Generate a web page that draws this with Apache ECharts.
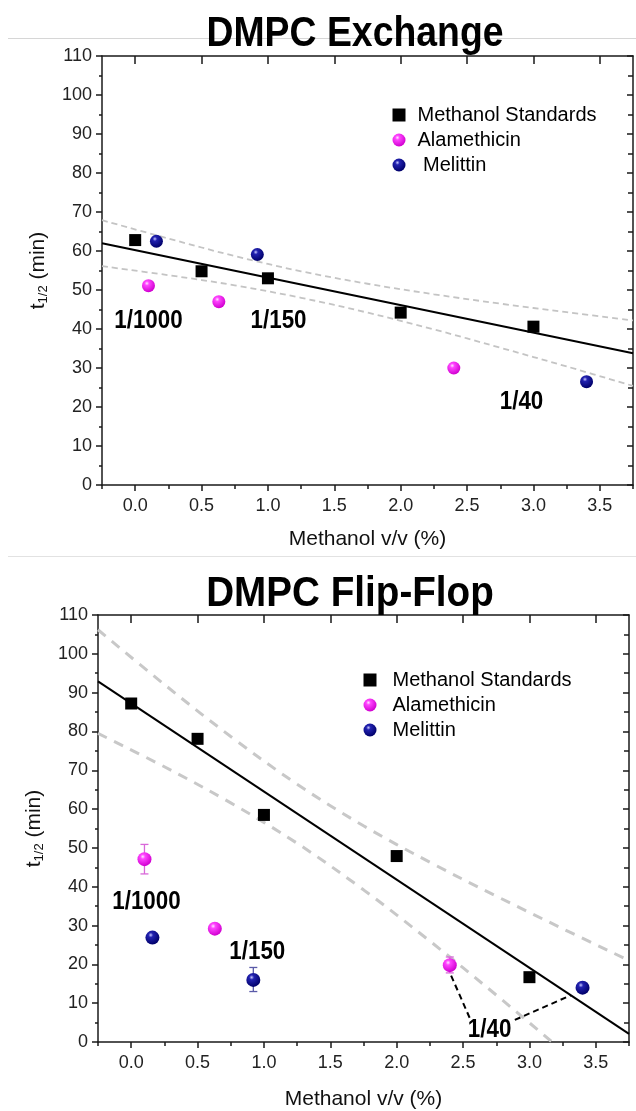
<!DOCTYPE html>
<html><head><meta charset="utf-8">
<script src="https://cdn.jsdelivr.net/npm/echarts@6/dist/echarts.min.js"></script>
<style>html,body{margin:0;padding:0;background:#fff}#c{width:636px;height:1111px}</style>
</head><body><div id="c"></div>
<script>
// ---------- DATA ----------
const xTickValues = [0, 0.5, 1.0, 1.5, 2.0, 2.5, 3.0, 3.5];
const bandX = [-0.25, 0.25, 0.75, 1.25, 1.75, 2.25, 2.75, 3.25, 3.75];

// DMPC Exchange
const exStdX = [0, 0.5, 1.0, 2.0, 3.0];
const exStdY = [62.8, 54.8, 53.0, 44.2, 40.6];
const exAlaX = [0.10, 0.63, 2.40];
const exAlaY = [51.1, 47.0, 30.0];
const exMelX = [0.16, 0.92, 3.40];
const exMelY = [62.5, 59.1, 26.5];
const exFitX = [-0.25, 3.75];
const exFitY = [62.0, 33.8];
const exUpperY = [67.9, 63.2, 58.7, 54.8, 51.6, 48.9, 46.5, 44.3, 42.2];
const exLowerY = [56.1, 53.8, 51.2, 48.0, 44.2, 39.9, 35.2, 30.4, 25.4];
const exAnnText = ['1/1000', '1/150', '1/40'];
const exAnnX = [0.10, 1.08, 2.91];
const exAnnY = [42.2, 42.2, 21.3];

// DMPC Flip-Flop
const ffStdX = [0, 0.5, 1.0, 2.0, 3.0];
const ffStdY = [87.2, 78.1, 58.5, 47.9, 16.7];
const ffAlaX = [0.10, 0.63, 2.40];
const ffAlaY = [47.1, 29.2, 19.8];
const ffAlaErrX = [0.10, 2.40];
const ffAlaErrLow = [43.3, 17.8];
const ffAlaErrHigh = [50.9, 21.9];
const ffMelX = [0.16, 0.92, 3.40];
const ffMelY = [26.9, 16.0, 14.0];
const ffMelErrX = [0.92];
const ffMelErrLow = [13.0];
const ffMelErrHigh = [19.2];
const ffFitX = [-0.25, 3.75];
const ffFitY = [92.9, 2.1];
const ffUpperY = [106.2, 92.1, 78.7, 66.4, 55.7, 46.3, 37.6, 29.2, 21.0];
const ffLowerY = [79.5, 70.9, 61.6, 51.2, 39.2, 26.0, 12.1, -2.3, -16.8];
const ffAnnText = ['1/1000', '1/150', '1/40'];
const ffAnnX = [0.115, 0.95, 2.70];
const ffAnnY = [36.2, 23.3, 3.2];
const ffLeadAX = [2.41, 2.55], ffLeadAY = [17.1, 6.2];
const ffLeadBX = [2.89, 3.31], ffLeadBY = [5.7, 12.0];

// ---------- STYLE ----------
const FONT = "'Liberation Sans', Arial, sans-serif";
const AX = '#1a1a1a';
const zip = (xs, ys) => xs.map((x, i) => [x, ys[i]]);
const alaColor = {type:'radial', x:0.38, y:0.32, r:0.68, colorStops:[
  {offset:0, color:'#ffe6ff'}, {offset:0.25, color:'#ff44ff'}, {offset:1, color:'#d000d0'}]};
const melColor = {type:'radial', x:0.38, y:0.32, r:0.68, colorStops:[
  {offset:0, color:'#c8c8ff'}, {offset:0.25, color:'#2222b0'}, {offset:1, color:'#00006a'}]};

function xAxes(g) {
  const base = {gridIndex:g, type:'value', min:-0.25, max:3.75, splitLine:{show:false}};
  const ls = {color:AX, width:1.5};
  return [
    Object.assign({}, base, {position:'bottom',
      axisLine:{show:true, onZero:false, lineStyle:ls},
      axisTick:{show:true, inside:false, length:6, customValues:xTickValues, lineStyle:ls},
      axisLabel:{show:true, customValues:xTickValues, formatter:v => v.toFixed(1), fontSize:18, color:'#222', fontFamily:FONT, margin:12},
      name:'Methanol v/v (%)', nameLocation:'middle', nameGap:g === 0 ? 44 : 47,
      nameTextStyle:{fontSize:21, color:'#111', fontFamily:FONT}}),
    Object.assign({}, base, {position:'bottom', interval:0.25,
      axisLine:{show:false}, axisTick:{show:true, inside:false, length:3, lineStyle:ls}, axisLabel:{show:false}}),
    Object.assign({}, base, {position:'top',
      axisLine:{show:true, onZero:false, lineStyle:ls},
      axisTick:{show:true, inside:true, length:8, customValues:xTickValues, lineStyle:ls}, axisLabel:{show:false}}),
    Object.assign({}, base, {position:'top', interval:0.25,
      axisLine:{show:false}, axisTick:{show:true, inside:true, length:4, lineStyle:ls}, axisLabel:{show:false}})
  ];
}
function yAxes(g) {
  const ls = {color:AX, width:1.5};
  return [
    {gridIndex:g, type:'value', position:'left', min:0, max:110, interval:10, splitLine:{show:false},
      axisLine:{show:true, onZero:false, lineStyle:ls},
      axisTick:{show:true, inside:false, length:6, lineStyle:ls},
      minorTick:{show:true, splitNumber:2, length:3, lineStyle:ls},
      axisLabel:{fontSize:18, color:'#222', fontFamily:FONT, margin:10},
      name:'{t|t}{s|1/2}{t| (min)}', nameLocation:'middle', nameGap:52, nameRotate:90,
      nameTextStyle:{rich:{t:{fontSize:21, color:'#111', fontFamily:FONT},
                           s:{fontSize:13, color:'#111', fontFamily:FONT, padding:[10,0,0,0]}}}},
    {gridIndex:g, type:'value', position:'right', min:0, max:110, interval:10, splitLine:{show:false},
      axisLine:{show:true, onZero:false, lineStyle:ls},
      axisTick:{show:true, inside:true, length:6, lineStyle:ls},
      minorTick:{show:true, splitNumber:2, length:5, lineStyle:ls},
      axisLabel:{show:false}}
  ];
}

function panelSeries(g, d) {
  const xi = g * 4, yi = g * 2;
  const common = {xAxisIndex:xi, yAxisIndex:yi, silent:true, animation:false};
  const s = [];
  const dashStyle = {color:d.dashColor, width:d.dashWidth, type:d.dashType};
  s.push(Object.assign({type:'line', smooth:0.35, showSymbol:false, symbol:'none', z:1,
    data:zip(bandX, d.upper), lineStyle:dashStyle}, common));
  s.push(Object.assign({type:'line', smooth:0.35, showSymbol:false, symbol:'none', z:1,
    data:zip(bandX, d.lower), lineStyle:dashStyle}, common));
  s.push(Object.assign({type:'line', showSymbol:false, symbol:'none', z:2,
    data:zip(d.fitX, d.fitY), lineStyle:{color:'#000', width:2}}, common));
  if (d.leads) d.leads.forEach(L => s.push(Object.assign({type:'line', showSymbol:false, symbol:'none', z:2,
    data:zip(L[0], L[1]), lineStyle:{color:'#000', width:2, type:[6,4]}}, common)));
  (d.errs || []).forEach(E => s.push(Object.assign({type:'custom', z:3,
    data:E.x.map((x, i) => [x, E.lo[i], E.hi[i]]), encode:{x:0, y:[1,2]},
    renderItem:(p, api) => {
      const x = api.value(0);
      const a = api.coord([x, api.value(2)]), b = api.coord([x, api.value(1)]);
      const st = {stroke:E.color, lineWidth:1.3};
      return {type:'group', children:[
        {type:'line', shape:{x1:a[0], y1:a[1], x2:b[0], y2:b[1]}, style:st},
        {type:'line', shape:{x1:a[0]-4, y1:a[1], x2:a[0]+4, y2:a[1]}, style:st},
        {type:'line', shape:{x1:b[0]-4, y1:b[1], x2:b[0]+4, y2:b[1]}, style:st}]};
    }}, common)));
  s.push(Object.assign({type:'scatter', name:'Methanol Standards', symbol:'rect', symbolSize:d.sq, z:5,
    data:zip(d.stdX, d.stdY), itemStyle:{color:'#000', opacity:1}}, common));
  s.push(Object.assign({type:'scatter', name:'Alamethicin', symbol:'circle', symbolSize:d.sph, z:5,
    data:zip(d.alaX, d.alaY), itemStyle:{color:alaColor, opacity:1}}, common));
  s.push(Object.assign({type:'scatter', name:d.melName, symbol:'circle', symbolSize:d.sph, z:5,
    data:zip(d.melX, d.melY), itemStyle:{color:melColor, opacity:1}}, common));
  return s;
}

const series = [].concat(
  panelSeries(0, {upper:exUpperY, lower:exLowerY, fitX:exFitX, fitY:exFitY,
    dashColor:'#c4c4c4', dashWidth:1.8, dashType:[6,4],
    stdX:exStdX, stdY:exStdY, alaX:exAlaX, alaY:exAlaY, melX:exMelX, melY:exMelY, melName:' Melittin',
    sq:12, sph:13}),
  panelSeries(1, {upper:ffUpperY, lower:ffLowerY, fitX:ffFitX, fitY:ffFitY,
    dashColor:'#c8c8c8', dashWidth:3, dashType:[10,8],
    stdX:ffStdX, stdY:ffStdY, alaX:ffAlaX, alaY:ffAlaY, melX:ffMelX, melY:ffMelY, melName:'Melittin',
    sq:12, sph:14,
    leads:[[ffLeadAX, ffLeadAY], [ffLeadBX, ffLeadBY]],
    errs:[{x:ffAlaErrX, lo:ffAlaErrLow, hi:ffAlaErrHigh, color:'#d968d9'},
          {x:ffMelErrX, lo:ffMelErrLow, hi:ffMelErrHigh, color:'#5a5aa8'}]})
);

const legendText = {fontSize:20, color:'#000', fontFamily:FONT, lineHeight:20};
const baseGraphic = [
  {type:'line', shape:{x1:8, y1:38.5, x2:636, y2:38.5}, style:{stroke:'#d6d6d6', lineWidth:1}, z:0},
  {type:'line', shape:{x1:8, y1:556.5, x2:636, y2:556.5}, style:{stroke:'#e2e2e2', lineWidth:1}, z:0},
  {type:'text', x:355, y:34, scaleX:0.89, z:10,
    style:{text:'DMPC Exchange', font:'bold 42px ' + FONT, textAlign:'center', textVerticalAlign:'middle', fill:'#000'}},
  {type:'text', x:350, y:594, scaleX:0.92, z:10,
    style:{text:'DMPC Flip-Flop', font:'bold 42px ' + FONT, textAlign:'center', textVerticalAlign:'middle', fill:'#000'}}
];
const option = {
  animation:false,
  backgroundColor:'#fff',
  grid:[
    {left:102, top:56, width:531, height:429},
    {left:98, top:615, width:531, height:429}
  ],
  xAxis:[].concat(xAxes(0), xAxes(1)),
  yAxis:[].concat(yAxes(0), yAxes(1)),
  legend:[
    {orient:'vertical', left:387.5, top:100, itemWidth:13, itemHeight:13, itemGap:5,
      selectedMode:false, data:['Methanol Standards', 'Alamethicin', ' Melittin'],
      textStyle:Object.assign({padding:[0,0,0,7]}, legendText)},
    {orient:'vertical', left:358.5, top:665, itemWidth:13, itemHeight:13, itemGap:5,
      selectedMode:false, data:['Methanol Standards', 'Alamethicin', 'Melittin'],
      textStyle:Object.assign({padding:[0,0,0,11]}, legendText)}
  ],
  graphic:baseGraphic,
  series:series
};
const chart = echarts.init(document.getElementById('c'), null, {renderer:'canvas'});
chart.setOption(option);

// Annotations placed through the axes' own scales
function annGraphics(g, xs, ys, texts) {
  return xs.map((x, i) => {
    const p = chart.convertToPixel({xAxisIndex:g * 4, yAxisIndex:g * 2}, [x, ys[i]]);
    return {type:'text', x:p[0], y:p[1], scaleX:0.86, z:20,
      style:{text:texts[i], font:'bold 26px ' + FONT, textAlign:'center', textVerticalAlign:'middle', fill:'#000'}};
  });
}
chart.setOption({graphic:baseGraphic.concat(
  annGraphics(0, exAnnX, exAnnY, exAnnText),
  annGraphics(1, ffAnnX, ffAnnY, ffAnnText))});
</script>
</body></html>
